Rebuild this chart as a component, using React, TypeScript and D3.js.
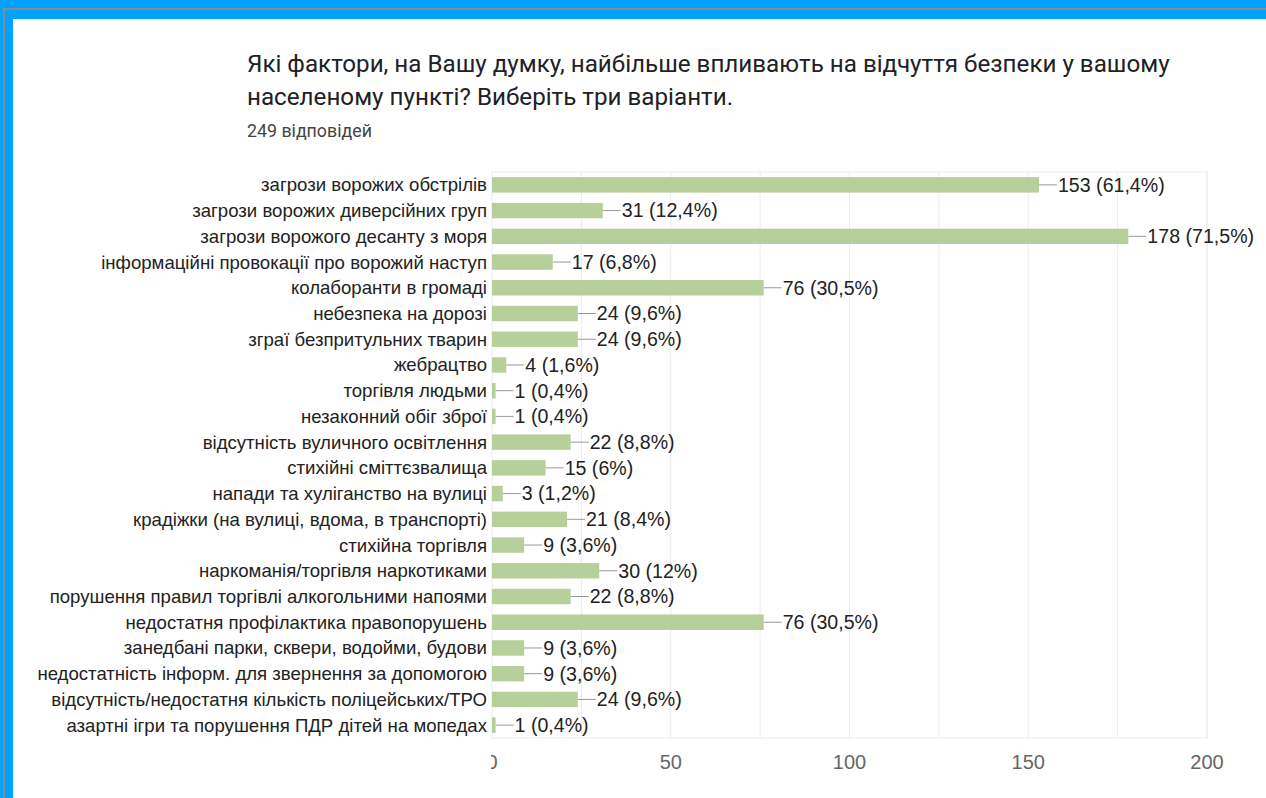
import * as d3 from "d3";

// Survey question: factors that affect the feeling of safety (249 responses)
const categories = [
  "загрози ворожих обстрілів",
  "загрози ворожих диверсійних груп",
  "загрози ворожого десанту з моря",
  "інформаційні провокації про ворожий наступ",
  "колаборанти в громаді",
  "небезпека на дорозі",
  "зграї безпритульних тварин",
  "жебрацтво",
  "торгівля людьми",
  "незаконний обіг зброї",
  "відсутність вуличного освітлення",
  "стихійні сміттєзвалища",
  "напади та хуліганство на вулиці",
  "крадіжки (на вулиці, вдома, в транспорті)",
  "стихійна торгівля",
  "наркоманія/торгівля наркотиками",
  "порушення правил торгівлі алкогольними напоями",
  "недостатня профілактика правопорушень",
  "занедбані парки, сквери, водойми, будови",
  "недостатність інформ. для звернення за допомогою",
  "відсутність/недостатня кількість поліцейських/ТРО",
  "азартні ігри та порушення ПДР дітей на мопедах",
];

const counts = [153, 31, 178, 17, 76, 24, 24, 4, 1, 1, 22, 15, 3, 21, 9, 30, 22, 76, 9, 9, 24, 1];

const percents = [
  "61,4%", "12,4%", "71,5%", "6,8%", "30,5%", "9,6%", "9,6%", "1,6%", "0,4%", "0,4%", "8,8%",
  "6%", "1,2%", "8,4%", "3,6%", "12%", "8,8%", "30,5%", "3,6%", "3,6%", "9,6%", "0,4%",
];

const xTicks = [0, 50, 100, 150, 200];
const gridTicks = [25, 50, 75, 100, 125, 150, 175, 200];

const titleLines = [
  "Які фактори, на Вашу думку, найбільше впливають на відчуття безпеки у вашому",
  "населеному пункті? Виберіть три варіанти.",
];
const subtitle = "249 відповідей";

const W = 1266;
const H = 798;
const BAR = "#b7cf9b";
const FONT = "Arial, 'Liberation Sans', sans-serif";

export default function App() {
  const plot = { left: 492, right: 1207, top: 172, bottom: 738 };

  const x = d3.scaleLinear().domain([0, 200]).range([plot.left, plot.right]);
  const y = d3
    .scaleBand<string>()
    .domain(categories)
    .range([plot.top, plot.bottom])
    .paddingInner(0.4)
    .paddingOuter(0.2);

  const rows = categories.map((c, i) => ({ c, v: counts[i], p: percents[i] }));

  return (
    <svg
      width={W}
      height={H}
      style={{ position: "absolute", left: 0, top: 0, background: "#fff" }}
    >
      <defs>
        <clipPath id="axis-clip">
          <rect x={plot.left - 1} y={0} width={W} height={H} />
        </clipPath>
      </defs>

      {/* screenshot frame */}
      <rect x={0} y={0} width={W} height={H} fill="#00a2ff" />
      <rect x={3} y={8} width={W} height={2} fill="#8a8a8a" />
      <rect x={3} y={8} width={2} height={H} fill="#8a8a8a" />
      <rect x={13} y={19} width={W} height={H} fill="#fff" />

      {/* title */}
      {titleLines.map((t, i) => (
        <text
          key={i}
          x={247}
          y={72 + i * 33}
          fontFamily="Roboto, sans-serif"
          fontSize={24.2}
          fill="#202124"
        >
          {t}
        </text>
      ))}
      <text x={247} y={137} fontFamily="Roboto, sans-serif" fontSize={17.8} fill="#444">
        {subtitle}
      </text>

      {/* plot frame + grid */}
      <rect
        x={plot.left}
        y={plot.top}
        width={plot.right - plot.left}
        height={plot.bottom - plot.top}
        fill="none"
        stroke="#ebebeb"
      />
      {gridTicks.map((t) => (
        <line
          key={t}
          x1={x(t)}
          x2={x(t)}
          y1={plot.top}
          y2={plot.bottom}
          stroke="#ebebeb"
        />
      ))}

      {/* bars */}
      {rows.map((d) => {
        const yc = (y(d.c) ?? 0) + y.bandwidth() / 2;
        const xe = x(d.v);
        return (
          <g key={d.c}>
            <rect
              x={x(0)}
              y={y(d.c)}
              width={xe - x(0)}
              height={y.bandwidth()}
              fill={BAR}
            />
            <line x1={xe} x2={xe + 18} y1={yc} y2={yc} stroke="#999" strokeWidth={1} />
            <text
              x={xe + 19}
              y={yc}
              dy="0.35em"
              fontFamily={FONT}
              fontSize={19.6}
              fill="#222"
            >
              {`${d.v} (${d.p})`}
            </text>
            <text
              x={plot.left - 5}
              y={yc}
              dy="0.35em"
              textAnchor="end"
              fontFamily={FONT}
              fontSize={18.6}
              fill="#222"
            >
              {d.c}
            </text>
          </g>
        );
      })}

      {/* x axis labels */}
      <g clipPath="url(#axis-clip)">
        {xTicks.map((t) => (
          <text
            key={t}
            x={x(t)}
            y={769}
            textAnchor="middle"
            fontFamily={FONT}
            fontSize={20}
            fill="#666"
          >
            {t}
          </text>
        ))}
      </g>
    </svg>
  );
}
